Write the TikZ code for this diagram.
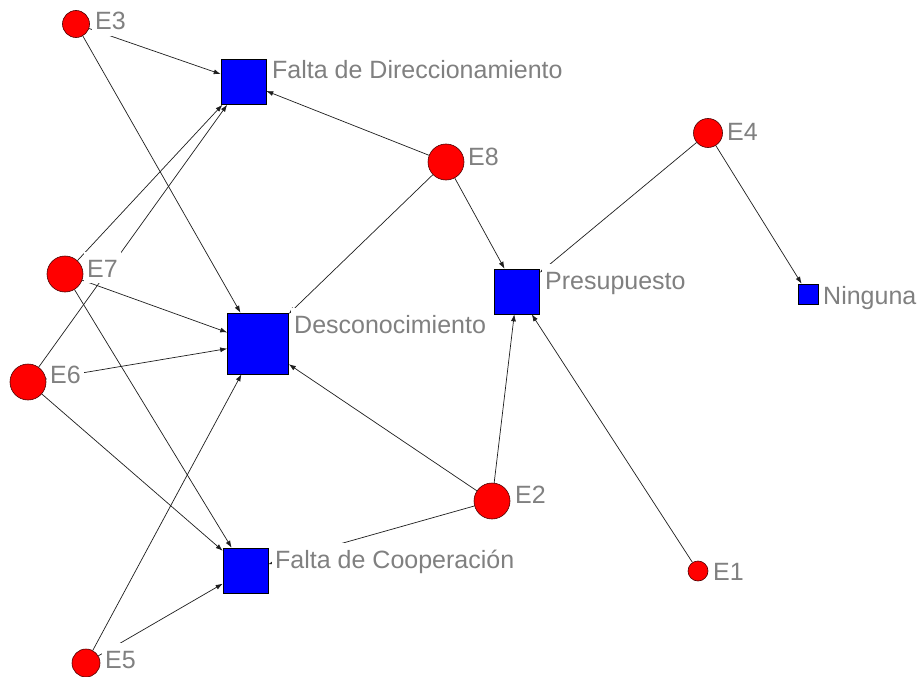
\documentclass[tikz,border=0pt]{standalone}
\usepackage{fontspec}
\setmainfont{Liberation Sans}
\usetikzlibrary{arrows.meta}
\definecolor{nodered}{RGB}{255,0,0}
\definecolor{nodeblue}{RGB}{0,0,255}
\definecolor{labelgray}{RGB}{128,128,128}
\definecolor{edgecol}{RGB}{30,30,30}
\tikzset{
  actor/.style={circle, fill=nodered, draw=black!70!red, line width=0.6pt, inner sep=0pt, minimum size=#1},
  issue/.style={rectangle, fill=nodeblue, draw=black, line width=0.6pt, inner sep=0pt, minimum size=#1},
  lbl/.style={anchor=base west, fill=white, inner xsep=3pt, inner ysep=0pt, text height=25pt, text depth=6pt,
              text=labelgray, font=\fontsize{25pt}{30pt}\selectfont},
  link/.style={draw=edgecol, line width=0.7pt, -{Latex[length=7pt,width=5pt]}},
  plainlink/.style={draw=edgecol, line width=0.7pt}
}
\begin{document}
\begin{tikzpicture}[x=1pt,y=-1pt]
\useasboundingbox (0,0) rectangle (919,677);
\fill[white] (0,0) rectangle (919,677);
% actor nodes
\node[actor=27pt] (E3) at (76,24) {};
\node[actor=36pt] (E7) at (65,274) {};
\node[actor=36pt] (E8) at (446,162) {};
\node[actor=36pt] (E6) at (28,382) {};
\node[actor=28pt] (E5) at (86,663) {};
\node[actor=36pt] (E2) at (492,501) {};
\node[actor=29pt] (E4) at (708,133) {};
\node[actor=20pt] (E1) at (698,571) {};
% issue nodes
\node[issue=45pt] (FD) at (243.5,82) {};
\node[issue=61pt] (DS) at (258,343.5) {};
\node[issue=45pt] (FC) at (245.5,570.5) {};
\node[issue=45pt] (PR) at (517,291.5) {};
\node[issue=20pt] (NG) at (808,294) {};
% edges
\draw[link] (E3) -- (FD);
\draw[link] (E3) -- (DS);
\draw[link] (E7) -- (FD);
\draw[link] (E7) -- (DS);
\draw[link] (E7) -- (FC);
\draw[link] (E6) -- (FD);
\draw[link] (E6) -- (DS);
\draw[link] (E6) -- (FC);
\draw[link] (E5) -- (DS);
\draw[link] (E5) -- (FC);
\draw[link] (E8) -- (FD);
\draw[link] (E8) -- (DS);
\draw[link] (E8) -- (PR);
\draw[link] (E2) -- (DS);
\draw[link] (E2) -- (FC);
\draw[link] (E2) -- (PR);
\draw[link] (E1) -- (PR);
\draw[link] (E4) -- (PR);
\draw[link] (E4) -- (NG);
% labels
\node[lbl] (lE3) at (92,30) {E3};
\node[lbl] (lE7) at (84,277) {E7};
\node[lbl] (lE8) at (465,165) {E8};
\node[lbl] (lE6) at (47,383) {E6};
\node[lbl] (lE5) at (102,668) {E5};
\node[lbl] (lE2) at (512,503) {E2};
\node[lbl] (lE4) at (724,140) {E4};
\node[lbl] (lE1) at (710,580) {E1};
\node[lbl] (lFD) at (269,78) {Falta de Direccionamiento};
\node[lbl] (lDS) at (291,333) {Desconocimiento};
\node[lbl] (lFC) at (272,568) {Falta de Cooperación};
\node[lbl] (lPR) at (542,289) {Presupuesto};
\node[lbl] (lNG) at (820,304) {Ninguna};
\end{tikzpicture}
\end{document}
